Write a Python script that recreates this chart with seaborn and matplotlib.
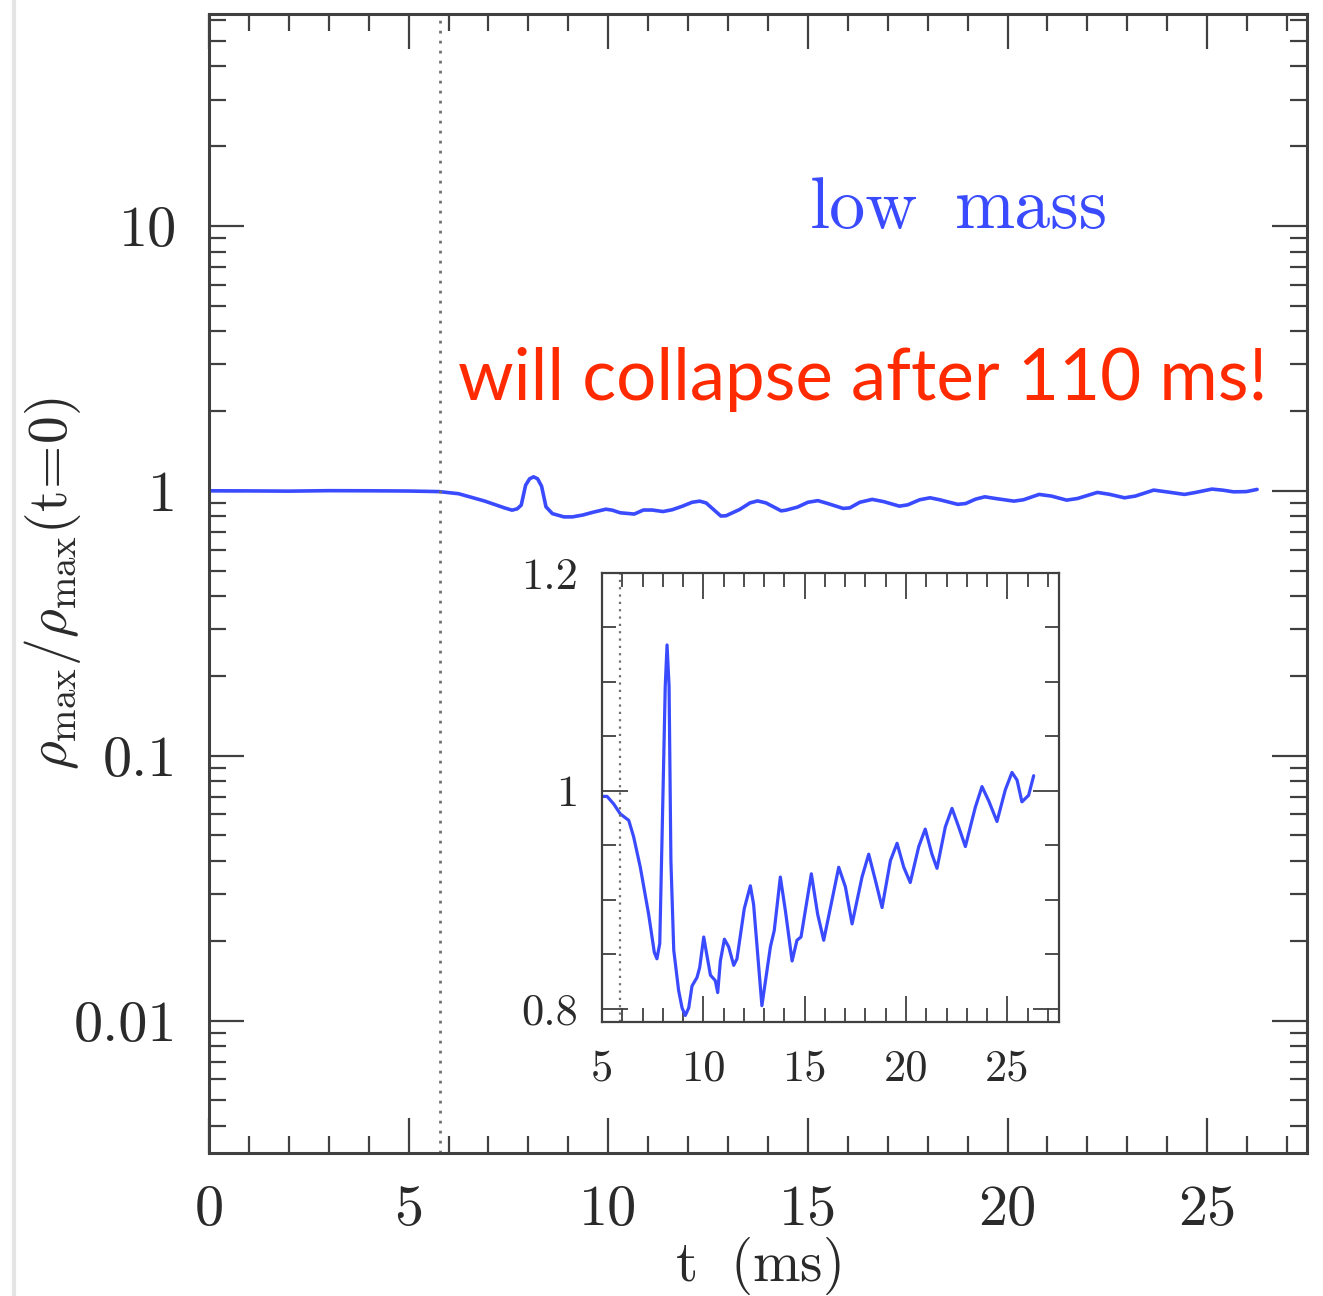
import numpy as np
import pandas as pd
import matplotlib
matplotlib.use("Agg")
import matplotlib.pyplot as plt
from matplotlib.ticker import MultipleLocator, LogLocator, NullFormatter
from matplotlib.lines import Line2D
import seaborn as sns

# ---------------- data ----------------
main_t = [0.0, 1.0, 2.0, 3.0, 4.0, 5.0, 5.76, 6.25, 6.9, 7.4, 7.59, 7.72, 7.82, 7.93, 8.03,
          8.13, 8.23, 8.33, 8.44, 8.6, 8.89, 9.1, 9.36, 9.62, 9.94, 10.1, 10.3, 10.65,
          10.88, 11.1, 11.37, 11.6, 11.86, 12.1, 12.29, 12.45, 12.82, 12.95, 13.29, 13.55,
          13.74, 13.95, 14.33, 14.45, 14.74, 15.0, 15.25, 15.5, 15.88, 16.05, 16.3, 16.61,
          16.9, 17.29, 17.5, 17.8, 18.06, 18.3, 18.75, 18.95, 19.2, 19.43, 19.7, 20.16,
          20.4, 20.79, 21.1, 21.48, 21.75, 22.25, 22.55, 22.93, 23.2, 23.66, 24.0, 24.43,
          24.7, 25.12, 25.4, 25.66, 25.98, 26.25]
main_rho = [1.0, 0.999, 0.997, 1.001, 1.0, 0.998, 0.993, 0.975, 0.915, 0.862, 0.845, 0.855,
            0.883, 1.05, 1.11, 1.129, 1.11, 1.04, 0.87, 0.82, 0.797, 0.797, 0.81, 0.83,
            0.852, 0.845, 0.826, 0.817, 0.846, 0.846, 0.835, 0.848, 0.875, 0.905, 0.914,
            0.90, 0.803, 0.805, 0.850, 0.90, 0.916, 0.90, 0.840, 0.845, 0.868, 0.905, 0.918,
            0.895, 0.858, 0.862, 0.905, 0.928, 0.91, 0.875, 0.885, 0.925, 0.941, 0.925,
            0.889, 0.895, 0.93, 0.949, 0.935, 0.914, 0.925, 0.969, 0.955, 0.922, 0.935,
            0.986, 0.97, 0.941, 0.955, 1.006, 0.99, 0.969, 0.985, 1.015, 1.005, 0.991,
            0.993, 1.012]

inset_t = [5.0, 5.25, 5.58, 5.9, 6.32, 6.56, 6.89, 7.3, 7.58, 7.71, 7.85, 8.01, 8.12, 8.21,
           8.31, 8.4, 8.54, 8.78, 8.95, 9.11, 9.28, 9.44, 9.69, 9.82, 10.02, 10.15, 10.35,
           10.59, 10.71, 10.84, 11.04, 11.25, 11.5, 11.66, 12.02, 12.32, 12.48, 12.89,
           13.31, 13.5, 13.8, 14.05, 14.38, 14.62, 14.82, 15.33, 15.64, 15.94, 16.35,
           16.68, 17.01, 17.34, 17.83, 18.16, 18.49, 18.82, 19.23, 19.56, 19.89, 20.21,
           20.63, 20.95, 21.28, 21.53, 21.94, 22.27, 22.6, 22.93, 23.42, 23.75, 24.08,
           24.49, 24.9, 25.23, 25.48, 25.72, 26.05, 26.3]
inset_rho = [0.995, 0.995, 0.988, 0.979, 0.973, 0.958, 0.930, 0.887, 0.852, 0.846, 0.860,
             0.998, 1.096, 1.134, 1.096, 0.936, 0.854, 0.817, 0.801, 0.794, 0.801, 0.821,
             0.829, 0.838, 0.866, 0.852, 0.831, 0.826, 0.815, 0.844, 0.864, 0.857, 0.840,
             0.846, 0.892, 0.913, 0.896, 0.803, 0.857, 0.872, 0.921, 0.890, 0.844, 0.863,
             0.866, 0.924, 0.887, 0.863, 0.900, 0.930, 0.912, 0.878, 0.921, 0.942, 0.918,
             0.893, 0.936, 0.952, 0.930, 0.916, 0.949, 0.965, 0.942, 0.929, 0.967, 0.984,
             0.967, 0.949, 0.985, 1.004, 0.991, 0.972, 1.001, 1.017, 1.010, 0.990, 0.996,
             1.014]

bounce_t_main = 5.78
bounce_t_inset = 5.9

main_yticks = [0.01, 0.1, 1, 10]
main_ytick_labels = ["0.01", "0.1", "1", "10"]
inset_yticks = [0.8, 1.0, 1.2]
inset_ytick_labels = ["0.8", "1", "1.2"]

label_low = ["low", "mass"]
label_collapse = "will collapse after 110 ms!"
xlabel = r"$\mathrm{t\ \ (ms)}$"
ylabel = r"$\rho_{\rm max}/\rho_{\rm max}(\mathrm{t\!=\!0})$"

# ---------------- style ----------------
sns.set_theme(style="ticks")
plt.rcParams["font.family"] = ["cmr10", "DejaVu Serif"]
plt.rcParams["mathtext.fontset"] = "cm"
plt.rcParams["axes.unicode_minus"] = False

BLUE = "#3a4bff"
RED = "#ff2a00"
FRAME = "#404040"
TXT = "#2a2a2a"

W, H = 1323, 1296
fig = plt.figure(figsize=(W / 100, H / 100), dpi=100)
fig.patch.set_facecolor("white")

def fx(px):
    return px / W

def fy(py):
    return 1 - py / H

# ---------------- main axes ----------------
ax = fig.add_axes([fx(209), fy(1153), (1307 - 209) / W, (1153 - 14) / H])
df_main = pd.DataFrame({"t": main_t, "rho": main_rho})
sns.lineplot(data=df_main, x="t", y="rho", ax=ax, color=BLUE, lw=2.6,
             estimator=None, sort=False, solid_joinstyle="round")
ax.set_yscale("log")
ax.set_xlim(0, 27.5)
ax.set_ylim(10 ** -2.5, 10 ** 1.8)
ax.axvline(bounce_t_main, color="#707070", lw=2.0, ls=(0, (1, 2.6)))

ax.xaxis.set_major_locator(MultipleLocator(5))
ax.xaxis.set_minor_locator(MultipleLocator(1))
ax.set_yticks(main_yticks)
ax.set_yticklabels(main_ytick_labels)
ax.yaxis.set_minor_locator(LogLocator(base=10, subs=np.arange(2, 10), numticks=50))
ax.yaxis.set_minor_formatter(NullFormatter())
ax.tick_params(which="both", direction="in", top=True, right=True, colors=FRAME,
               labelcolor=TXT)
ax.tick_params(which="major", length=25, width=1.6, labelsize=42, pad=23)
ax.tick_params(which="minor", length=12.5, width=1.6)
for s in ax.spines.values():
    s.set_color(FRAME)
    s.set_linewidth(2.2)

ax.set_xlabel(xlabel, fontsize=41, color=TXT)
ax.xaxis.set_label_coords(0.5, -0.072)
ax.set_ylabel(ylabel, fontsize=40, color=TXT)
ax.yaxis.set_label_coords(-0.115, 0.5)

fig.text(fx(810), fy(228), label_low[0], fontsize=52, color=BLUE,
         family=["cmr10", "DejaVu Serif"], va="baseline", ha="left")
fig.text(fx(955), fy(228), label_low[1], fontsize=52, color=BLUE,
         family=["cmr10", "DejaVu Serif"], va="baseline", ha="left")
fig.text(fx(458), fy(400), label_collapse, fontsize=51, color=RED, fontweight="normal",
         family=["Lato", "DejaVu Sans"], va="baseline", ha="left")

# ---------------- inset ----------------
ax2 = fig.add_axes([fx(602), fy(1022), (1059 - 602) / W, (1022 - 573) / H])
df_in = pd.DataFrame({"t": inset_t, "rho": inset_rho})
sns.lineplot(data=df_in, x="t", y="rho", ax=ax2, color=BLUE, lw=2.3,
             estimator=None, sort=False, solid_joinstyle="round")
ax2.set_xlim(5, 27.55)
ax2.set_ylim(0.788, 1.2)
ax2.axvline(bounce_t_inset, color="#707070", lw=1.6, ls=(0, (1, 2.3)))
ax2.xaxis.set_major_locator(MultipleLocator(5))
ax2.xaxis.set_minor_locator(MultipleLocator(1))
ax2.set_yticks(inset_yticks)
ax2.set_yticklabels(inset_ytick_labels)
ax2.yaxis.set_minor_locator(MultipleLocator(0.05))
ax2.tick_params(which="both", direction="in", top=True, right=True, colors=FRAME,
                labelcolor=TXT)
ax2.tick_params(which="major", length=19, width=1.3, labelsize=32, pad=17)
ax2.tick_params(which="minor", length=10, width=1.3)
ax2.tick_params(axis="x", which="major", pad=20)
ax2.set_xlabel("")
ax2.set_ylabel("")
for s in ax2.spines.values():
    s.set_color(FRAME)
    s.set_linewidth(1.6)

# faint page border seen at the left of the screenshot
fig.add_artist(Line2D([fx(14), fx(14)], [0, 1], color="#e4e4e4", lw=3))

fig.savefig("out.png", dpi=100)
